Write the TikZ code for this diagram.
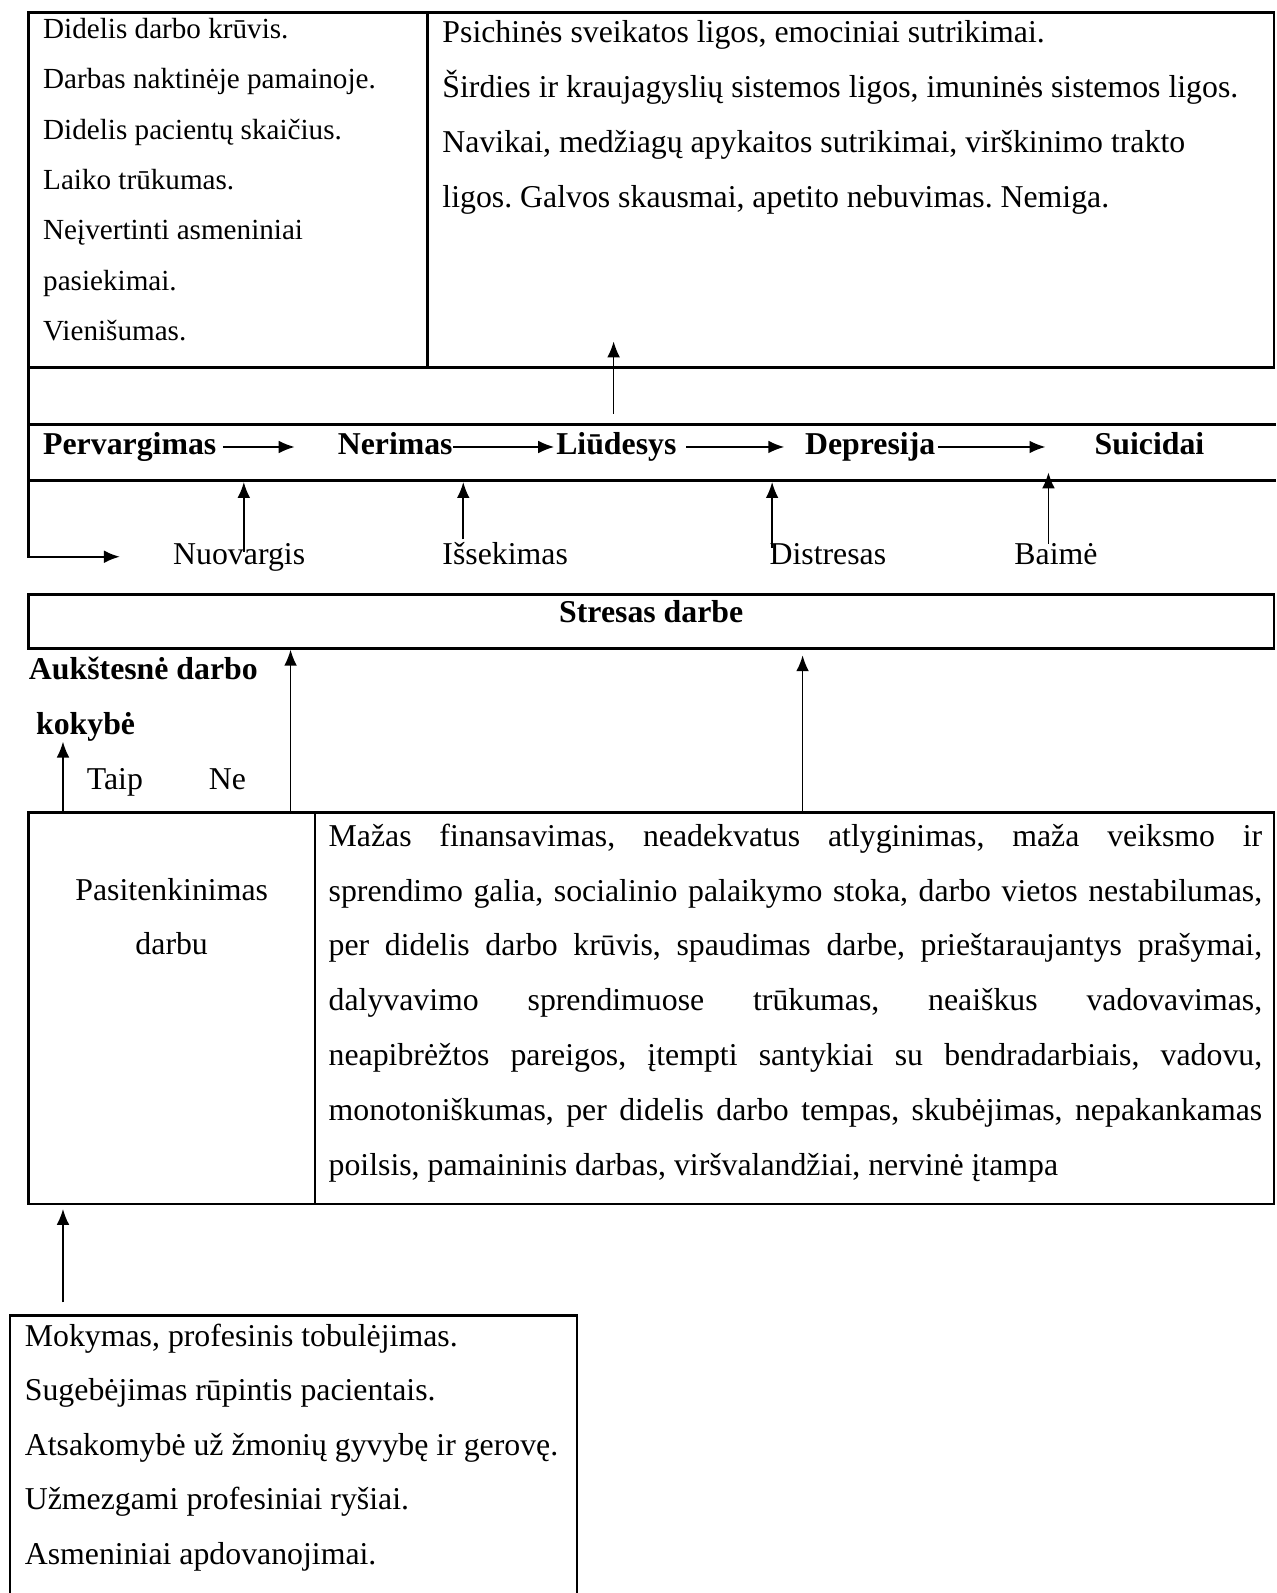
\documentclass[tikz,border=0pt]{standalone}
\usepackage{fontspec}
\setmainfont{Liberation Serif}
\usetikzlibrary{arrows.meta}
\tolerance=10000
\hbadness=10000
\hyphenpenalty=10000
\frenchspacing

\begin{document}
\begin{tikzpicture}[x=0.3834pt,y=-0.3834pt,>={Latex[length=6pt,width=4.8pt]}]
\tikzstyle{cell} = [line width=1pt]
\tikzstyle{txt} = [inner sep=0pt, anchor=base west, font=\fontsize{12}{20.7}\selectfont]
\tikzstyle{word} = [txt, font=\fontsize{12}{20.7}\selectfont\bfseries, text height=8pt, text depth=2.6pt]
\tikzstyle{arr} = [->, line width=0.6pt]
\useasboundingbox (0,0) rectangle (1256,1568);

% boxes
\draw [cell] (28,12) rectangle (1254,362);
\draw [cell] (421,12) -- (421,362);
\draw [cell] (28,418) -- (1256,418);
\draw [cell] (28,473) -- (1256,473);
\draw [cell] (28,585) rectangle (1254,638);
\draw [cell] (28,800) rectangle (1254,1185);
\draw [cell] (310,800) -- (310,1185);
\draw [cell] (10,1568) |- (568,1295) -- (568,1568);

\coordinate (r3) at (28,474.5);
\coordinate (sd) at (28,639.5);
\coordinate (bb) at (28,1190);

% top cells
\node [txt, font=\fontsize{11}{18.98}\selectfont, text width=150pt, align=flush left] (cause) at (42,38)
  {Didelis darbo krūvis.\\Darbas naktinėje pamainoje.\\Didelis pacientų skaičius.\\Laiko trūkumas.\\Neįvertinti asmeniniai\\pasiekimai.\\Vienišumas.};
\node [txt, text width=314pt, align=flush left] (ill) at (435,42)
  {Psichinės sveikatos ligos, emociniai sutrikimai.\\Širdies ir kraujagyslių sistemos ligos, imuninės sistemos ligos.\\Navikai, medžiagų apykaitos sutrikimai, virškinimo trakto\\ligos. Galvos skausmai, apetito nebuvimas. Nemiga.};

% chain
\node [word] (word0) at (42,447) {Pervargimas};
\node [word] (word1) at (332,447) {Nerimas};
\node [word] (word2) at (547,447) {Liūdesys};
\node [word] (word3) at (792,447) {Depresija};
\node [word] (word4) at (1077,447) {Suicidai};
\path ([xshift=2.3pt]word0.east) edge [arr] ([xshift=-16.1pt]word1.west);
\path (word1.east) edge [arr] ([xshift=-0.6pt]word2.west);
\path ([xshift=3.5pt]word2.east) edge [arr] ([xshift=-7.7pt]word3.west);
\path ([xshift=0.8pt]word3.east) edge [arr] ([xshift=-18.4pt]word4.west);
\coordinate (up0) at (604,407);
\path (up0) edge [arr] (604,336);

% labels
\node [txt] (lbl0) at (170,556) {Nuovargis};
\node [txt] (lbl1) at (435,556) {Išsekimas};
\node [txt] (lbl2) at (757,556) {Distresas};
\node [txt] (lbl3) at (998,556) {Baimė};
\coordinate (a0) at (240,543);
\coordinate (a1) at (456,531);
\coordinate (a2) at (760,539);
\coordinate (a3) at (1032,535);
\path (a0) edge [arr] (a0 |- r3);
\path (a1) edge [arr] (a1 |- r3);
\path (a2) edge [arr] (a2 |- r3);
\path (a3) edge [arr] (1032,465);
\draw [->, line width=0.8pt] (28,12) |- (118,548);

% stress
\node [word, anchor=base] (stress) at (641,613) {Stresas darbe};
\node [word, text width=100pt, align=flush left, text height=, text depth=] (quality) at (28,669)
  {Aukštesnė darbo\\\hspace*{2.7pt}kokybė};
\node [txt] (yes) at (85,777) {Taip};
\node [txt] (no) at (205,777) {Ne};
\coordinate (b0) at (62,800);
\coordinate (b1) at (286,800);
\coordinate (b2) at (790,800);
\path (b0) edge [arr] (62,730);
\path (b1) edge [arr] (b1 |- sd);
\path (b2) edge [arr] (790,645);

% satisfaction
\node [txt, anchor=base, text width=108pt, align=flush center] (satis) at (169,886) {Pasitenkinimas\\darbu};
\node [txt, text width=352.3pt, align=justify] (factors) at (323,833)
  {Mažas finansavimas, neadekvatus atlyginimas, maža veiksmo ir\linebreak
   sprendimo galia, socialinio palaikymo stoka, darbo vietos nestabilumas,\linebreak
   per didelis darbo krūvis, spaudimas darbe, prieštaraujantys prašymai,\linebreak
   dalyvavimo sprendimuose trūkumas, neaiškus vadovavimas,\linebreak
   neapibrėžtos pareigos, įtempti santykiai su bendradarbiais, vadovu,\linebreak
   monotoniškumas, per didelis darbo tempas, skubėjimas, nepakankamas\linebreak
   poilsis, pamaininis darbas, viršvalandžiai, nervinė įtampa};

% bottom
\coordinate (c0) at (62,1282);
\path (c0) edge [arr] (c0 |- bb);
\node [txt, font=\fontsize{12}{20.6}\selectfont, text width=210pt, align=flush left] (gain) at (24,1325)
  {Mokymas, profesinis tobulėjimas.\\Sugebėjimas rūpintis pacientais.\\Atsakomybė už žmonių gyvybę ir gerovę.\\Užmezgami profesiniai ryšiai.\\Asmeniniai apdovanojimai.};
\end{tikzpicture}
\end{document}
